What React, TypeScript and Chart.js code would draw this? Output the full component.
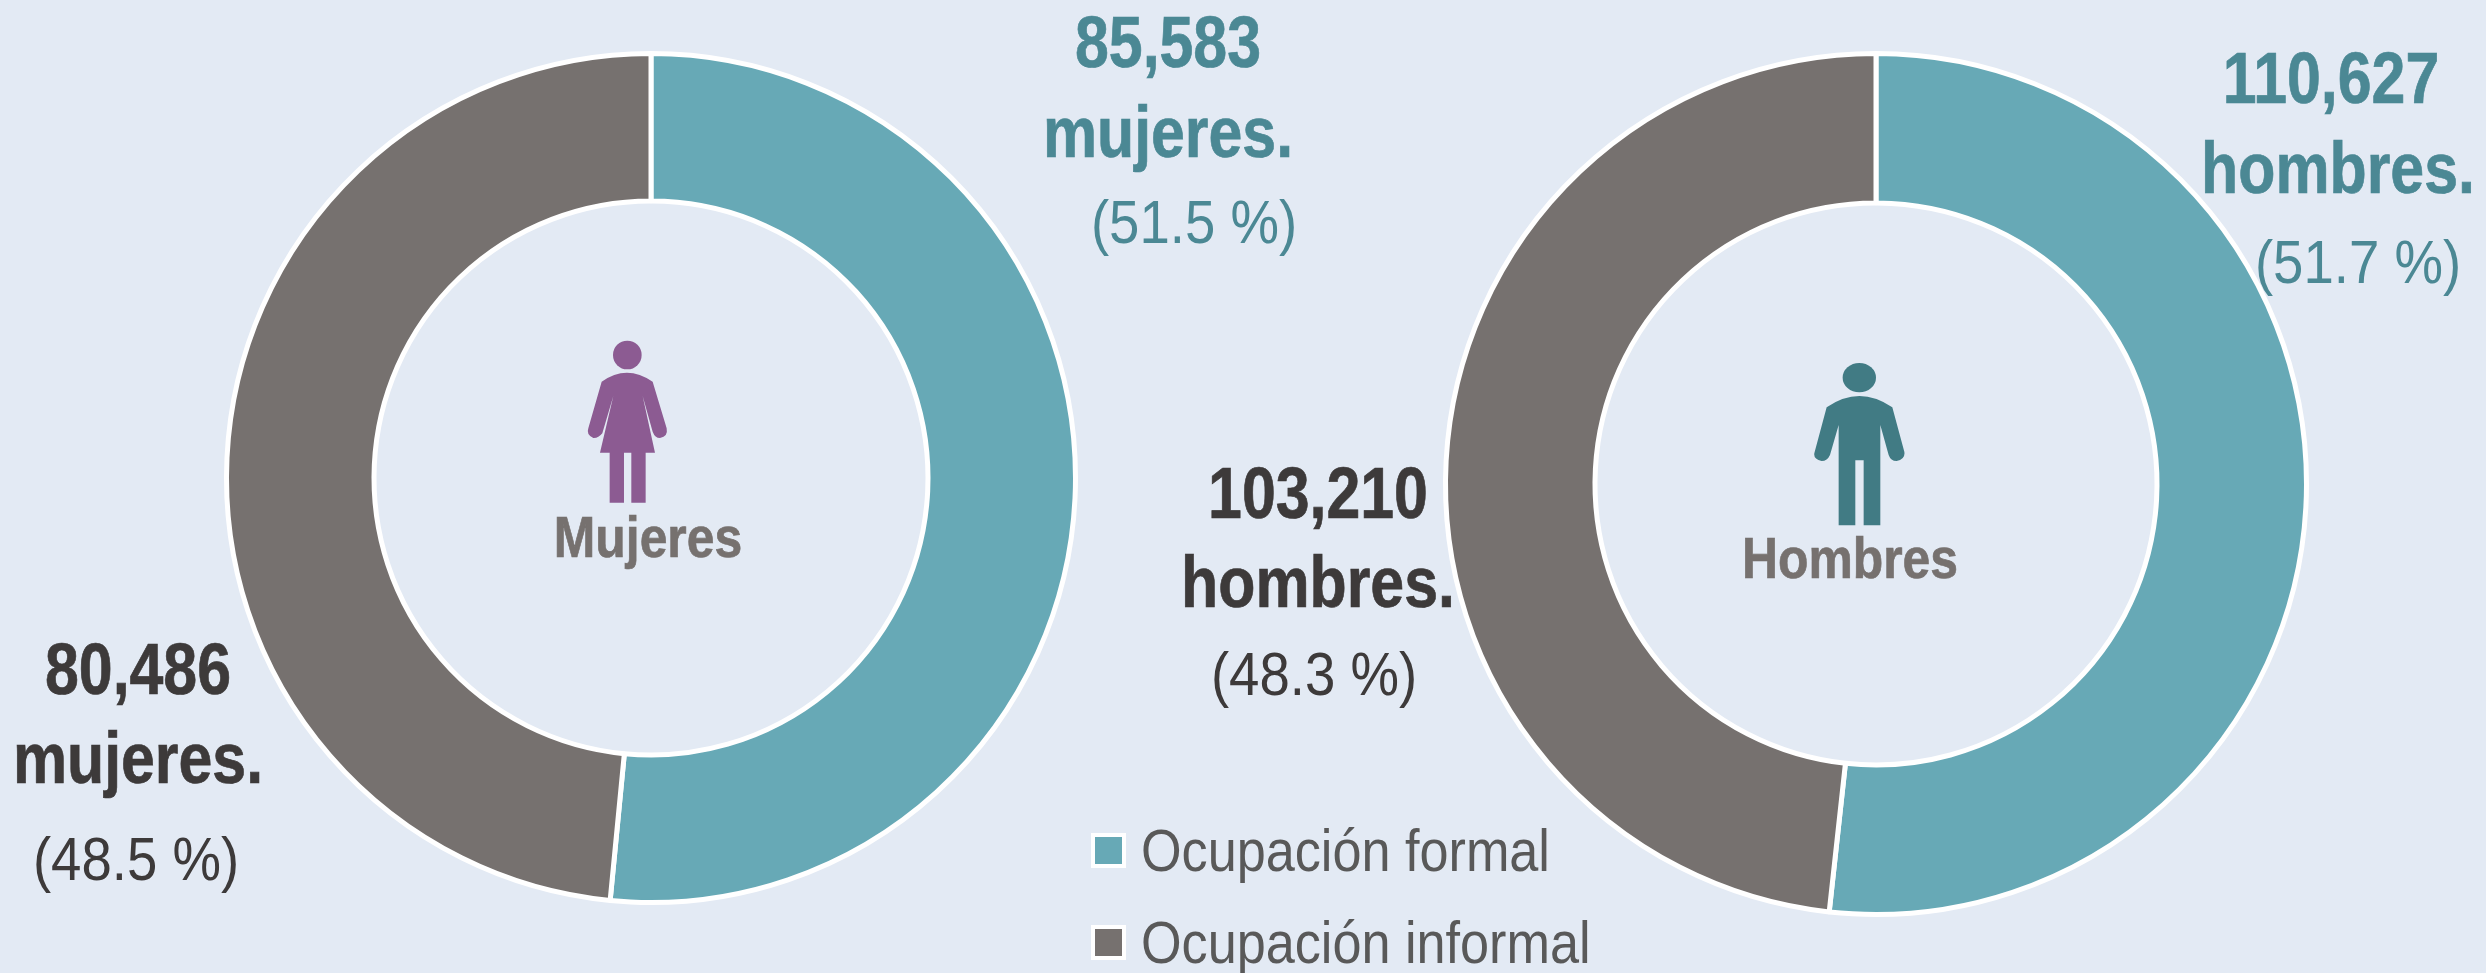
import React, { useEffect, useRef } from "react";
import { Chart, registerables } from "chart.js";

Chart.register(...registerables);

const categories = ["Ocupación formal", "Ocupación informal"];
const mujeresValues = [85583, 80486];
const hombresValues = [110627, 103210];
const sliceColors = ["#67A9B6", "#76716F"];
const FONT = '"Liberation Sans", Arial, sans-serif';
const BG = "#E3EAF4";

type Lbl = { t: string; x: number; y: number; size: number; bold: boolean; color: string; sx: number; anchor?: string };
const TEAL = "#4B8894";
const DARK = "#3D3A3A";
const B = 72;
const BX = 0.845;
const R = 62;
const RX = 0.88;
const labels: Lbl[] = [
  { t: "85,583", x: 1168, y: 67, size: B, bold: true, color: TEAL, sx: BX },
  { t: "mujeres.", x: 1168, y: 157, size: B, bold: true, color: TEAL, sx: BX },
  { t: "(51.5 %)", x: 1194, y: 243, size: R, bold: false, color: TEAL, sx: RX },
  { t: "110,627", x: 2331, y: 103, size: B, bold: true, color: TEAL, sx: BX },
  { t: "hombres.", x: 2338, y: 193, size: B, bold: true, color: TEAL, sx: BX },
  { t: "(51.7 %)", x: 2358, y: 283, size: R, bold: false, color: TEAL, sx: RX },
  { t: "103,210", x: 1318, y: 518, size: B, bold: true, color: DARK, sx: BX },
  { t: "hombres.", x: 1318, y: 607, size: B, bold: true, color: DARK, sx: BX },
  { t: "(48.3 %)", x: 1314, y: 695, size: R, bold: false, color: DARK, sx: RX },
  { t: "80,486", x: 138, y: 694, size: B, bold: true, color: DARK, sx: BX },
  { t: "mujeres.", x: 138, y: 783, size: B, bold: true, color: DARK, sx: BX },
  { t: "(48.5 %)", x: 136, y: 880, size: R, bold: false, color: DARK, sx: RX },
  { t: "Mujeres", x: 648, y: 557, size: 58, bold: true, color: "#76716F", sx: 0.86 },
  { t: "Hombres", x: 1850, y: 578, size: 58, bold: true, color: "#76716F", sx: 0.86 },
  { t: categories[0], x: 1141, y: 871, size: 60, bold: false, color: "#595959", sx: 0.87, anchor: "start" },
  { t: categories[1], x: 1141, y: 963, size: 60, bold: false, color: "#595959", sx: 0.87, anchor: "start" },
];

function Donut({ values, cx, cy, r, cut }: { values: number[]; cx: number; cy: number; r: number; cut: number }) {
  const ref = useRef<HTMLCanvasElement>(null);
  useEffect(() => {
    const chart = new Chart(ref.current!, {
      type: "doughnut",
      data: {
        labels: categories,
        datasets: [{ data: values, backgroundColor: sliceColors, borderColor: "#FFFFFF", borderWidth: 5 }],
      },
      options: {
        responsive: false,
        animation: false,
        cutout: cut,
        layout: { padding: 4 },
        plugins: { legend: { display: false }, tooltip: { enabled: false } },
      },
    });
    return () => chart.destroy();
  }, []);
  const half = r + 4;
  return (
    <canvas
      ref={ref}
      width={half * 2}
      height={half * 2}
      style={{ position: "absolute", left: cx - half, top: cy - half, width: half * 2, height: half * 2 }}
    />
  );
}

export default function App() {
  useEffect(() => {
    document.body.style.margin = "0";
    document.body.style.background = BG;
  }, []);
  return (
    <div style={{ position: "relative", width: 2486, height: 973, background: BG, overflow: "hidden" }}>
      <Donut values={mujeresValues} cx={651} cy={478} r={427} cut={277} />
      <Donut values={hombresValues} cx={1876} cy={484} r={433} cut={281} />
      <svg width={2486} height={973} style={{ position: "absolute", left: 0, top: 0 }}>
        <g transform="translate(500,300) scale(0.3333)" fill="#8C5B92">
          <circle cx={382} cy={165} r={43} />
          <path d="M305 245 Q380 191 458 245 L500 385 Q505 410 480 414 Q465 414 458 395 L428 288 L465 458 L437 458 L437 608 L394 608 L394 458 L372 458 L372 608 L329 608 L329 458 L300 458 L340 288 L307 400 Q295 415 280 414 Q258 405 265 385 Z" />
        </g>
        <g transform="translate(1700,320) scale(0.3333)" fill="#417B84">
          <ellipse cx={478} cy={173} rx={50} ry={44} />
          <path d="M380 262 Q478 194 577 262 L613 395 Q617 418 590 423 Q572 423 566 405 L541 315 L541 616 L491 616 L491 421 L466 421 L466 616 L416 616 L416 315 L390 405 Q382 423 365 423 Q340 418 343 400 Z" />
        </g>
        <rect x={1093} y={835} width={31} height={31} fill={sliceColors[0]} stroke="#FFFFFF" strokeWidth={4} />
        <rect x={1093} y={927} width={31} height={31} fill={sliceColors[1]} stroke="#FFFFFF" strokeWidth={4} />
        {labels.map((l, i) => (
          <text
            key={i}
            transform={`translate(${l.x},${l.y}) scale(${l.sx},1)`}
            textAnchor={(l.anchor || "middle") as any}
            fontFamily={FONT}
            fontSize={l.size}
            fontWeight={l.bold ? 700 : 400}
            fill={l.color}
            stroke={l.bold ? l.color : "none"}
            strokeWidth={l.bold ? 0.7 : 0}
          >
            {l.t}
          </text>
        ))}
      </svg>
    </div>
  );
}
